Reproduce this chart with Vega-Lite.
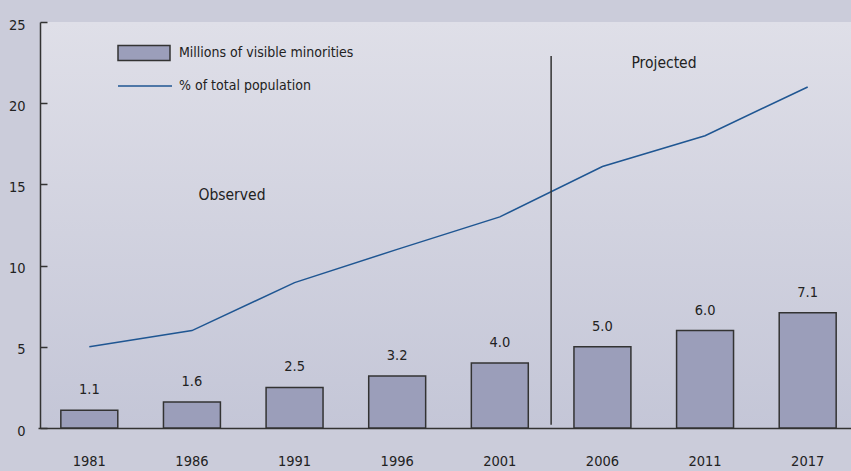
{
  "$schema": "https://vega.github.io/schema/vega-lite/v6.json",
  "width": 811,
  "height": 406,
  "autosize": {"type": "none"},
  "padding": {"left": 40, "top": 22, "right": 0, "bottom": 43},
  "background": "#cbccda",
  "config": {
    "view": {"stroke": null, "fill": {"gradient": "linear", "x1": 0, "y1": 0, "x2": 0, "y2": 1, "stops": [{"offset": 0, "color": "#dfdfe8"}, {"offset": 1, "color": "#c4c6d7"}]}},
    "font": "DejaVu Sans Condensed, sans-serif",
    "text": {"font": "DejaVu Sans Condensed, sans-serif", "fontSize": 14.5, "color": "#222222"}
  },
  "datasets": {
    "main": [
      {"year": "1981", "millions": 1.1, "pct": 5.0},
      {"year": "1986", "millions": 1.6, "pct": 6.0},
      {"year": "1991", "millions": 2.5, "pct": 8.95},
      {"year": "1996", "millions": 3.2, "pct": 11.0},
      {"year": "2001", "millions": 4.0, "pct": 13.0},
      {"year": "2006", "millions": 5.0, "pct": 16.1},
      {"year": "2011", "millions": 6.0, "pct": 18.0},
      {"year": "2017", "millions": 7.1, "pct": 21.0}
    ]
  },
  "data": {"name": "main"},
  "encoding": {
    "x": {
      "field": "year", "type": "ordinal",
      "scale": {"range": [-2, 819], "paddingInner": 0, "paddingOuter": 0},
      "axis": {"title": null, "labelAngle": 0, "ticks": false, "domainColor": "#333333", "domainWidth": 1.5, "labelFontSize": 14.5, "labelColor": "#222222", "labelPadding": 26, "labelFont": "DejaVu Sans Condensed, sans-serif"}
    }
  },
  "layer": [
    {
      "mark": {"type": "bar", "width": {"band": 0.555}, "stroke": "#333333", "strokeWidth": 1.5},
      "encoding": {
        "y": {
          "field": "millions", "type": "quantitative",
          "scale": {"domain": [0, 25], "nice": false},
          "axis": {"title": null, "values": [0, 5, 10, 15, 20, 25], "grid": false, "domainColor": "#333333", "domainWidth": 1.5, "tickColor": "#333333", "tickWidth": 1.5, "tickSize": -7, "labelFontSize": 14.5, "labelColor": "#222222", "labelPadding": 22, "labelOffset": 3, "labelFont": "DejaVu Sans Condensed, sans-serif"}
        },
        "fill": {
          "datum": "Millions of visible minorities",
          "scale": {"range": ["#9b9eba"]},
          "legend": {"title": null, "orient": "none", "legendX": 77, "legendY": 4, "symbolType": "M-1,-0.29H1V0.29H-1Z", "symbolSize": 2704, "symbolStrokeColor": "#333333", "symbolStrokeWidth": 1.5, "labelFontSize": 14, "labelLimit": 0, "labelColor": "#222222", "labelOffset": 8, "labelFont": "DejaVu Sans Condensed, sans-serif"}
        }
      }
    },
    {
      "mark": {"type": "text", "baseline": "alphabetic", "dy": -16},
      "encoding": {
        "y": {"field": "millions", "type": "quantitative"},
        "text": {"field": "millions", "type": "quantitative", "format": ".1f"}
      }
    },
    {
      "mark": {"type": "line", "strokeWidth": 1.5},
      "encoding": {
        "y": {"field": "pct", "type": "quantitative"},
        "stroke": {
          "datum": "% of total population",
          "scale": {"range": ["#1f5692"]},
          "legend": {"title": null, "orient": "none", "legendX": 77, "legendY": 36, "symbolType": "stroke", "symbolSize": 2916, "symbolStrokeWidth": 1.5, "labelFontSize": 14, "labelLimit": 0, "labelColor": "#222222", "labelOffset": 6, "labelFont": "DejaVu Sans Condensed, sans-serif"}
        }
      }
    },
    {
      "data": {"values": [{"year": "2001", "y0": 0.2, "y1": 22.9}]},
      "mark": {"type": "rule", "color": "#333333", "strokeWidth": 1.5},
      "encoding": {
        "x": {"field": "year", "type": "ordinal", "bandPosition": 1},
        "y": {"field": "y0", "type": "quantitative"},
        "y2": {"field": "y1"}
      }
    },
    {
      "data": {"values": [{"year": "1986", "v": 14.35, "label": "Observed"}]},
      "mark": {"type": "text", "baseline": "middle", "fontSize": 15.5},
      "encoding": {
        "x": {"field": "year", "type": "ordinal", "bandPosition": 0.89},
        "y": {"field": "v", "type": "quantitative"},
        "text": {"field": "label"}
      }
    },
    {
      "data": {"values": [{"year": "2011", "v": 22.5, "label": "Projected"}]},
      "mark": {"type": "text", "baseline": "middle", "fontSize": 15.5},
      "encoding": {
        "x": {"field": "year", "type": "ordinal", "bandPosition": 0.1},
        "y": {"field": "v", "type": "quantitative"},
        "text": {"field": "label"}
      }
    }
  ]
}
